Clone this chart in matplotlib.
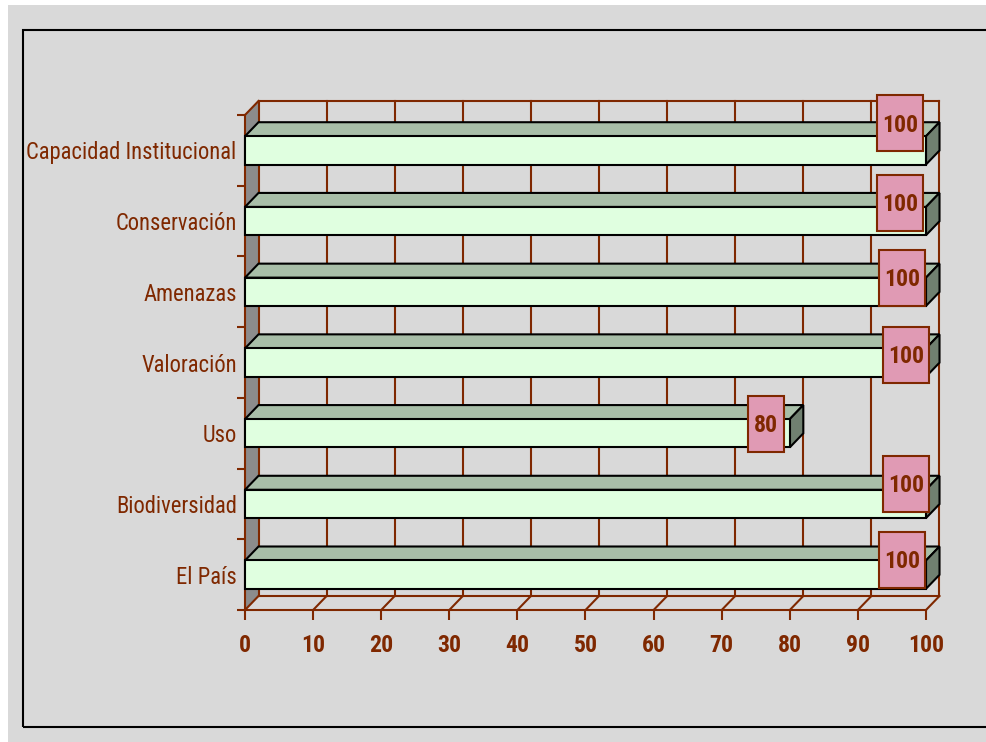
import os
import matplotlib
matplotlib.use("Agg")
import matplotlib.pyplot as plt
from matplotlib import font_manager as fm
from matplotlib.font_manager import FontProperties
from matplotlib.patches import Rectangle, Polygon
from matplotlib.lines import Line2D
from matplotlib.transforms import IdentityTransform

categories = ["El País", "Biodiversidad", "Uso", "Valoración", "Amenazas",
              "Conservación", "Capacidad Institucional"]
values = [100, 100, 80, 100, 100, 100, 100]
xticks = [0, 10, 20, 30, 40, 50, 60, 70, 80, 90, 100]

# label box offsets (pixels) relative to bar end
lab_dx = [-24, -20, -24, -20, -24, -26, -26]
lab_dy = [15, 20, 9.5, 8, 14, 18.5, 27]

BROWN = "#7f2800"
BG = "#d9d9d9"
FRONT = "#e0ffe0"
TOP = "#a8bea8"
SIDE = "#708070"
WALL = "#8c8c8c"
PINK = "#e09ab4"

PREF = ["liberation sans narrow", "arial narrow", "roboto condensed", "open sans condensed",
        "noto sans condensed", "dejavu sans condensed"]
COND_STRETCH = ("condensed", "semi-condensed", "extra-condensed")


def _is_bold(f):
    w = f.weight
    if isinstance(w, str):
        return w.lower() in ("bold", "demibold", "semibold", "heavy", "black", "extra bold")
    return w >= 600


def _is_regular(f):
    w = f.weight
    if isinstance(w, str):
        return w.lower() in ("normal", "regular", "book", "medium")
    return 350 <= w <= 500


def pick_font(bold):
    best, best_rank = None, 999
    for f in fm.fontManager.ttflist:
        if f.style != "normal":
            continue
        if bold and not _is_bold(f):
            continue
        if not bold and not _is_regular(f):
            continue
        low = (f.name + " " + os.path.basename(f.fname)).lower()
        rank = None
        for k, p in enumerate(PREF):
            if p in low:
                rank = k
                break
        if rank is None:
            if "narrow" in low or ("condensed" in low and "extra" not in low and "ultra" not in low
                                   and "semi" not in low):
                rank = 20
            elif f.stretch in COND_STRETCH and f.stretch != "extra-condensed":
                rank = 30
            elif "semi" in low and "condensed" in low:
                rank = 40
        if rank is not None and rank < best_rank:
            best, best_rank = f, rank
    if best is not None:
        return FontProperties(fname=best.fname)
    return FontProperties(family=["Liberation Sans", "DejaVu Sans"],
                          weight="bold" if bold else "normal")


FP_REG = pick_font(False)
FP_BOLD = pick_font(True)

W, H = 987, 742
fig = plt.figure(figsize=(W / 100, H / 100), dpi=100, facecolor="white")
ident = IdentityTransform()
renderer = fig.canvas.get_renderer()


def fit_size(text, fp, target_px, max_pt):
    t = fig.text(0, 0, text, fontproperties=fp, fontsize=max_pt)
    w = t.get_window_extent(renderer).width
    t.remove()
    return min(max_pt, max_pt * target_px / w)


SZ_REG = fit_size("Capacidad Institucional", FP_REG, 210, 18)
SZ_BOLD = fit_size("100", FP_BOLD, 36, 18)

fig.add_artist(Rectangle((8, 0), W, H - 5, transform=ident, facecolor=BG, edgecolor="none", zorder=-10))
fig.add_artist(Rectangle((23, 742 - 727), 1200, 727 - 30, transform=ident, facecolor="none",
                         edgecolor="black", lw=1.5, zorder=-9))

x0, x1 = 245, 926
ytop, ybot = 115, 610
ax = fig.add_axes([x0 / W, (H - ybot) / H, (x1 - x0) / W, (ybot - ytop) / H])
ax.set_facecolor("none")
ax.set_xlim(0, 100)
ax.set_ylim(-0.5, 6.5)
DX, DY = 13.5, 14.0

inv = ax.transData.inverted()


def back(x, y):
    px, py = ax.transData.transform((x, y))
    return tuple(inv.transform((px + DX, py + DY)))


GLW = 1.5
for t in xticks:
    a, b = back(t, -0.5), back(t, 6.5)
    ax.add_line(Line2D([a[0], b[0]], [a[1], b[1]], color=BROWN, lw=GLW, clip_on=False, zorder=1))
    ax.add_line(Line2D([t, a[0]], [-0.5, a[1]], color=BROWN, lw=GLW, clip_on=False, zorder=1))
a, b = back(0, 6.5), back(100, 6.5)
ax.add_line(Line2D([a[0], b[0]], [a[1], b[1]], color=BROWN, lw=GLW, clip_on=False, zorder=1))
a, b = back(0, -0.5), back(100, -0.5)
ax.add_line(Line2D([a[0], b[0]], [a[1], b[1]], color=BROWN, lw=GLW, clip_on=False, zorder=1))

# left wall
ax.add_patch(Polygon([(0, -0.5), (0, 6.5), back(0, 6.5), back(0, -0.5)], closed=True,
                     facecolor=WALL, edgecolor="none", clip_on=False, zorder=0.5))
a = back(0, 6.5)
ax.add_line(Line2D([0, a[0]], [6.5, a[1]], color=BROWN, lw=GLW, clip_on=False, zorder=1))

# bars
h = 0.4
BLW = 1.5
for i in range(len(values) - 1, -1, -1):
    v = values[i]
    yt, yb = i + h / 2, i - h / 2
    ax.add_patch(Polygon([(0, yt), (v, yt), back(v, yt), back(0, yt)], closed=True,
                         facecolor=TOP, edgecolor="black", lw=BLW, clip_on=False, zorder=3,
                         joinstyle="miter"))
    ax.add_patch(Polygon([(v, yb), (v, yt), back(v, yt), back(v, yb)], closed=True,
                         facecolor=SIDE, edgecolor="black", lw=BLW, clip_on=False, zorder=3,
                         joinstyle="miter"))
ax.barh(range(len(values)), values, height=h, color=FRONT, edgecolor="black", lw=BLW,
        zorder=4, clip_on=False)

# value labels
for i, v in enumerate(values):
    px, py = ax.transData.transform((v, i))
    cx, cy = px + lab_dx[i], py + lab_dy[i]
    s = str(v)
    bw = 18.5 + 9 * len(s)
    bh = 56
    fig.add_artist(Rectangle((cx - bw / 2, cy - bh / 2), bw, bh, transform=ident,
                             facecolor=PINK, edgecolor=BROWN, lw=1.5, zorder=10))
    fig.text(cx, cy - 2, s, transform=ident, ha="center", va="center", color=BROWN,
             fontproperties=FP_BOLD, fontsize=SZ_BOLD, zorder=11)

# axes styling
for side in ["top", "right"]:
    ax.spines[side].set_visible(False)
for side in ["left", "bottom"]:
    ax.spines[side].set_color(BROWN)
    ax.spines[side].set_linewidth(GLW)
    ax.spines[side].set_zorder(2)

ax.set_xticks(xticks)
ax.set_xticklabels([str(t) for t in xticks])
ax.tick_params(axis="x", direction="out", length=7.2, width=GLW, color=BROWN, pad=10,
               labelcolor=BROWN)
for lab in ax.get_xticklabels():
    lab.set_fontproperties(FP_BOLD)
    lab.set_fontsize(SZ_BOLD)

ax.set_yticks(range(len(categories)))
ax.set_yticklabels(categories)
ax.set_yticks([k - 0.5 for k in range(len(categories) + 1)], minor=True)
ax.tick_params(axis="y", which="major", length=0, pad=6, labelcolor=BROWN)
ax.tick_params(axis="y", which="minor", direction="out", length=6, width=GLW, color=BROWN)
for lab in ax.get_yticklabels():
    lab.set_fontproperties(FP_REG)
    lab.set_fontsize(SZ_REG)

fig.savefig("out.png", dpi=100, facecolor=fig.get_facecolor())
